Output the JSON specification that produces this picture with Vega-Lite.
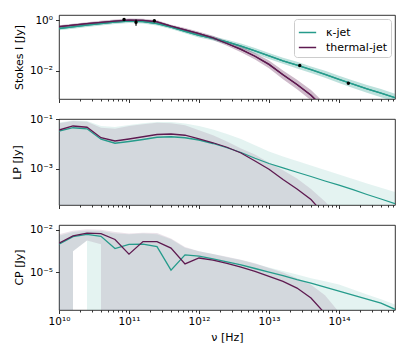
{
"$schema": "https://vega.github.io/schema/vega-lite/v6.json",
"padding": {"left": 10, "top": 14, "right": 13, "bottom": 4},
"background": "white",
"config": {
  "font": "DejaVu Sans",
  "view": {"stroke": "black", "strokeWidth": 0.8},
  "axis": {"domain": false, "grid": false, "labelFont": "DejaVu Sans", "labelFontSize": 10.5, "labelColor": "black", "titleFont": "DejaVu Sans", "titleFontSize": 11, "titleFontWeight": "normal", "titleColor": "black", "tickColor": "black", "tickWidth": 0.8},
  "legend": {"labelFont": "DejaVu Sans", "labelFontSize": 11, "labelColor": "black"},
  "concat": {"spacing": 20}
},
"datasets": {
  "I": [
    {"nu": 1e10, "s": "κ-jet", "v": 0.4677, "lo": 0.3981, "hi": 0.5495},
    {"nu": 1.585e10, "s": "κ-jet", "v": 0.537, "lo": 0.4571, "hi": 0.631},
    {"nu": 2.512e10, "s": "κ-jet", "v": 0.631, "lo": 0.537, "hi": 0.741},
    {"nu": 3.981e10, "s": "κ-jet", "v": 0.7244, "lo": 0.6166, "hi": 0.851},
    {"nu": 6.31e10, "s": "κ-jet", "v": 0.8318, "lo": 0.7079, "hi": 0.977},
    {"nu": 1e11, "s": "κ-jet", "v": 0.912, "lo": 0.7762, "hi": 1.072},
    {"nu": 1.585e11, "s": "κ-jet", "v": 0.871, "lo": 0.741, "hi": 1.023},
    {"nu": 2.512e11, "s": "κ-jet", "v": 0.7244, "lo": 0.6166, "hi": 0.851},
    {"nu": 3.981e11, "s": "κ-jet", "v": 0.5248, "lo": 0.4467, "hi": 0.6166},
    {"nu": 6.31e11, "s": "κ-jet", "v": 0.3631, "lo": 0.3055, "hi": 0.4315},
    {"nu": 1e12, "s": "κ-jet", "v": 0.2512, "lo": 0.2089, "hi": 0.302},
    {"nu": 1.585e12, "s": "κ-jet", "v": 0.1905, "lo": 0.1567, "hi": 0.2317},
    {"nu": 2.512e12, "s": "κ-jet", "v": 0.138, "lo": 0.1122, "hi": 0.1698},
    {"nu": 3.981e12, "s": "κ-jet", "v": 0.0955, "lo": 0.0759, "hi": 0.1202},
    {"nu": 6.31e12, "s": "κ-jet", "v": 0.0617, "lo": 0.0479, "hi": 0.0794},
    {"nu": 1e13, "s": "κ-jet", "v": 0.0389, "lo": 0.0295, "hi": 0.0513},
    {"nu": 1.585e13, "s": "κ-jet", "v": 0.0251, "lo": 0.01905, "hi": 0.0331},
    {"nu": 2.512e13, "s": "κ-jet", "v": 0.01698, "lo": 0.01259, "hi": 0.02291},
    {"nu": 3.981e13, "s": "κ-jet", "v": 0.01122, "lo": 0.00832, "hi": 0.01514},
    {"nu": 6.31e13, "s": "κ-jet", "v": 0.00741, "lo": 0.00537, "hi": 0.01023},
    {"nu": 1e14, "s": "κ-jet", "v": 0.004677, "lo": 0.00339, "hi": 0.00646},
    {"nu": 1.585e14, "s": "κ-jet", "v": 0.00302, "lo": 0.002138, "hi": 0.004266},
    {"nu": 2.512e14, "s": "κ-jet", "v": 0.001995, "lo": 0.001413, "hi": 0.002818},
    {"nu": 3.981e14, "s": "κ-jet", "v": 0.001349, "lo": 0.000933, "hi": 0.00195},
    {"nu": 6.31e14, "s": "κ-jet", "v": 0.000891, "lo": 0.000617, "hi": 0.001288},
    {"nu": 1e10, "s": "thermal-jet", "v": 0.5495, "lo": 0.4786, "hi": 0.631},
    {"nu": 1.585e10, "s": "thermal-jet", "v": 0.631, "lo": 0.5495, "hi": 0.7244},
    {"nu": 2.512e10, "s": "thermal-jet", "v": 0.7244, "lo": 0.631, "hi": 0.8318},
    {"nu": 3.981e10, "s": "thermal-jet", "v": 0.813, "lo": 0.7079, "hi": 0.9333},
    {"nu": 6.31e10, "s": "thermal-jet", "v": 0.912, "lo": 0.7943, "hi": 1.047},
    {"nu": 1e11, "s": "thermal-jet", "v": 1.0, "lo": 0.871, "hi": 1.148},
    {"nu": 1.585e11, "s": "thermal-jet", "v": 0.977, "lo": 0.851, "hi": 1.122},
    {"nu": 2.512e11, "s": "thermal-jet", "v": 0.851, "lo": 0.741, "hi": 0.977},
    {"nu": 3.981e11, "s": "thermal-jet", "v": 0.575, "lo": 0.501, "hi": 0.661},
    {"nu": 6.31e11, "s": "thermal-jet", "v": 0.417, "lo": 0.3548, "hi": 0.4898},
    {"nu": 1e12, "s": "thermal-jet", "v": 0.295, "lo": 0.2512, "hi": 0.3467},
    {"nu": 1.585e12, "s": "thermal-jet", "v": 0.1995, "lo": 0.166, "hi": 0.2399},
    {"nu": 2.512e12, "s": "thermal-jet", "v": 0.1202, "lo": 0.0977, "hi": 0.1479},
    {"nu": 3.981e12, "s": "thermal-jet", "v": 0.0708, "lo": 0.055, "hi": 0.0912},
    {"nu": 6.31e12, "s": "thermal-jet", "v": 0.038, "lo": 0.0282, "hi": 0.0513},
    {"nu": 1e13, "s": "thermal-jet", "v": 0.0182, "lo": 0.0129, "hi": 0.0257},
    {"nu": 1.585e13, "s": "thermal-jet", "v": 0.00708, "lo": 0.00479, "hi": 0.01047},
    {"nu": 2.512e13, "s": "thermal-jet", "v": 0.00295, "lo": 0.001905, "hi": 0.00457},
    {"nu": 3.981e13, "s": "thermal-jet", "v": 0.00112, "lo": 0.000708, "hi": 0.001778},
    {"nu": 6.31e13, "s": "thermal-jet", "v": 0.000316, "lo": 0.0001905, "hi": 0.000525},
    {"nu": 1e14, "s": "thermal-jet", "v": 0.0000794, "lo": 0.0000457, "hi": 0.000138}
  ],
  "obs": [
    {"nu": 8.5e10, "v": 1.06, "lo": 1.0, "hi": 1.12},
    {"nu": 1.26e11, "v": 0.83, "lo": 0.6, "hi": 1.05},
    {"nu": 2.3e11, "v": 0.94, "lo": 0.9, "hi": 0.98},
    {"nu": 2.75e13, "v": 0.0165, "lo": 0.0158, "hi": 0.0172},
    {"nu": 1.36e14, "v": 0.0033, "lo": 0.0031, "hi": 0.0035}
  ],
  "LP": [
    {"nu": 1e10, "s": "κ-jet", "v": 0.0324, "lo": 1e-30, "hi": 0.0724},
    {"nu": 1.585e10, "s": "κ-jet", "v": 0.0447, "lo": 1e-30, "hi": 0.0871},
    {"nu": 2.512e10, "s": "κ-jet", "v": 0.0407, "lo": 1e-30, "hi": 0.0832},
    {"nu": 3.981e10, "s": "κ-jet", "v": 0.0155, "lo": 1e-30, "hi": 0.0525},
    {"nu": 6.31e10, "s": "κ-jet", "v": 0.01072, "lo": 1e-30, "hi": 0.0479},
    {"nu": 1e11, "s": "κ-jet", "v": 0.01259, "lo": 1e-30, "hi": 0.0575},
    {"nu": 1.585e11, "s": "κ-jet", "v": 0.01514, "lo": 1e-30, "hi": 0.0676},
    {"nu": 2.512e11, "s": "κ-jet", "v": 0.01862, "lo": 1e-30, "hi": 0.0759},
    {"nu": 3.981e11, "s": "κ-jet", "v": 0.0195, "lo": 1e-30, "hi": 0.0759},
    {"nu": 6.31e11, "s": "κ-jet", "v": 0.01778, "lo": 1e-30, "hi": 0.0661},
    {"nu": 1e12, "s": "κ-jet", "v": 0.01445, "lo": 1e-30, "hi": 0.0525},
    {"nu": 1.585e12, "s": "κ-jet", "v": 0.01047, "lo": 1e-30, "hi": 0.038},
    {"nu": 2.512e12, "s": "κ-jet", "v": 0.00708, "lo": 1e-30, "hi": 0.0251},
    {"nu": 3.981e12, "s": "κ-jet", "v": 0.00457, "lo": 1e-30, "hi": 0.01585},
    {"nu": 6.31e12, "s": "κ-jet", "v": 0.00269, "lo": 1e-30, "hi": 0.00891},
    {"nu": 1e13, "s": "κ-jet", "v": 0.00166, "lo": 1e-30, "hi": 0.005012},
    {"nu": 1.585e13, "s": "κ-jet", "v": 0.0011, "lo": 1e-30, "hi": 0.00316},
    {"nu": 2.512e13, "s": "κ-jet", "v": 0.000741, "lo": 1e-30, "hi": 0.00209},
    {"nu": 3.981e13, "s": "κ-jet", "v": 0.000501, "lo": 1e-30, "hi": 0.00138},
    {"nu": 6.31e13, "s": "κ-jet", "v": 0.000331, "lo": 1e-30, "hi": 0.000912},
    {"nu": 1e14, "s": "κ-jet", "v": 0.000224, "lo": 1e-30, "hi": 0.000603},
    {"nu": 1.585e14, "s": "κ-jet", "v": 0.000148, "lo": 1e-30, "hi": 0.000398},
    {"nu": 2.512e14, "s": "κ-jet", "v": 0.0000955, "lo": 1e-30, "hi": 0.000263},
    {"nu": 3.981e14, "s": "κ-jet", "v": 0.0000631, "lo": 1e-30, "hi": 0.000178},
    {"nu": 6.31e14, "s": "κ-jet", "v": 0.0000407, "lo": 1e-30, "hi": 0.00012},
    {"nu": 1e10, "s": "thermal-jet", "v": 0.0363, "lo": 1e-30, "hi": 0.0676},
    {"nu": 1.585e10, "s": "thermal-jet", "v": 0.0525, "lo": 1e-30, "hi": 0.0832},
    {"nu": 2.512e10, "s": "thermal-jet", "v": 0.0468, "lo": 1e-30, "hi": 0.0776},
    {"nu": 3.981e10, "s": "thermal-jet", "v": 0.01778, "lo": 1e-30, "hi": 0.0447},
    {"nu": 6.31e10, "s": "thermal-jet", "v": 0.01318, "lo": 1e-30, "hi": 0.0407},
    {"nu": 1e11, "s": "thermal-jet", "v": 0.01585, "lo": 1e-30, "hi": 0.0525},
    {"nu": 1.585e11, "s": "thermal-jet", "v": 0.0195, "lo": 1e-30, "hi": 0.0617},
    {"nu": 2.512e11, "s": "thermal-jet", "v": 0.024, "lo": 1e-30, "hi": 0.0708},
    {"nu": 3.981e11, "s": "thermal-jet", "v": 0.0251, "lo": 1e-30, "hi": 0.0676},
    {"nu": 6.31e11, "s": "thermal-jet", "v": 0.0224, "lo": 1e-30, "hi": 0.0562},
    {"nu": 1e12, "s": "thermal-jet", "v": 0.0162, "lo": 1e-30, "hi": 0.0355},
    {"nu": 1.585e12, "s": "thermal-jet", "v": 0.01122, "lo": 1e-30, "hi": 0.0224},
    {"nu": 2.512e12, "s": "thermal-jet", "v": 0.00741, "lo": 1e-30, "hi": 0.0126},
    {"nu": 3.981e12, "s": "thermal-jet", "v": 0.004365, "lo": 1e-30, "hi": 0.0066},
    {"nu": 6.31e12, "s": "thermal-jet", "v": 0.00209, "lo": 1e-30, "hi": 0.0038},
    {"nu": 1e13, "s": "thermal-jet", "v": 0.000977, "lo": 1e-30, "hi": 0.001778},
    {"nu": 1.585e13, "s": "thermal-jet", "v": 0.00038, "lo": 1e-30, "hi": 0.000891},
    {"nu": 2.512e13, "s": "thermal-jet", "v": 0.000158, "lo": 1e-30, "hi": 0.000417},
    {"nu": 3.981e13, "s": "thermal-jet", "v": 0.0000603, "lo": 1e-30, "hi": 0.000158},
    {"nu": 6.31e13, "s": "thermal-jet", "v": 0.0000141, "lo": 1e-30, "hi": 0.0000501},
    {"nu": 1e14, "s": "thermal-jet", "v": 0.00000316, "lo": 1e-30, "hi": 0.0000126}
  ],
  "CP": [
    {"nu": 1e10, "s": "κ-jet", "v": 0.001},
    {"nu": 1.585e10, "s": "κ-jet", "v": 0.00339},
    {"nu": 2.512e10, "s": "κ-jet", "v": 0.0049},
    {"nu": 3.981e10, "s": "κ-jet", "v": 0.00355},
    {"nu": 6.31e10, "s": "κ-jet", "v": 0.00049},
    {"nu": 1e11, "s": "κ-jet", "v": 0.000955},
    {"nu": 1.585e11, "s": "κ-jet", "v": 0.001},
    {"nu": 2.512e11, "s": "κ-jet", "v": 0.000661},
    {"nu": 3.981e11, "s": "κ-jet", "v": 0.00001445},
    {"nu": 6.31e11, "s": "κ-jet", "v": 0.000174},
    {"nu": 1e12, "s": "κ-jet", "v": 0.000141},
    {"nu": 1.585e12, "s": "κ-jet", "v": 0.0000912},
    {"nu": 2.512e12, "s": "κ-jet", "v": 0.0000562},
    {"nu": 3.981e12, "s": "κ-jet", "v": 0.0000347},
    {"nu": 6.31e12, "s": "κ-jet", "v": 0.00001905},
    {"nu": 1e13, "s": "κ-jet", "v": 0.00001047},
    {"nu": 1.585e13, "s": "κ-jet", "v": 0.00000603},
    {"nu": 2.512e13, "s": "κ-jet", "v": 0.00000316},
    {"nu": 3.981e13, "s": "κ-jet", "v": 0.00000178},
    {"nu": 6.31e13, "s": "κ-jet", "v": 9.12e-7},
    {"nu": 1e14, "s": "κ-jet", "v": 4.79e-7},
    {"nu": 1.585e14, "s": "κ-jet", "v": 2.51e-7},
    {"nu": 2.512e14, "s": "κ-jet", "v": 1.32e-7},
    {"nu": 3.981e14, "s": "κ-jet", "v": 6.92e-8},
    {"nu": 6.31e14, "s": "κ-jet", "v": 2.51e-8},
    {"nu": 1e10, "s": "thermal-jet", "v": 0.001148},
    {"nu": 1.585e10, "s": "thermal-jet", "v": 0.0038},
    {"nu": 2.512e10, "s": "thermal-jet", "v": 0.00589},
    {"nu": 3.981e10, "s": "thermal-jet", "v": 0.0055},
    {"nu": 6.31e10, "s": "thermal-jet", "v": 0.00214},
    {"nu": 1e11, "s": "thermal-jet", "v": 0.000195},
    {"nu": 1.585e11, "s": "thermal-jet", "v": 0.001514},
    {"nu": 2.512e11, "s": "thermal-jet", "v": 0.001479},
    {"nu": 3.981e11, "s": "thermal-jet", "v": 0.000525},
    {"nu": 6.31e11, "s": "thermal-jet", "v": 0.0000398},
    {"nu": 1e12, "s": "thermal-jet", "v": 0.000105},
    {"nu": 1.585e12, "s": "thermal-jet", "v": 0.0000741},
    {"nu": 2.512e12, "s": "thermal-jet", "v": 0.0000437},
    {"nu": 3.981e12, "s": "thermal-jet", "v": 0.000024},
    {"nu": 6.31e12, "s": "thermal-jet", "v": 0.00001175},
    {"nu": 1e13, "s": "thermal-jet", "v": 0.00000525},
    {"nu": 1.585e13, "s": "thermal-jet", "v": 0.00000234},
    {"nu": 2.512e13, "s": "thermal-jet", "v": 7.94e-7},
    {"nu": 3.981e13, "s": "thermal-jet", "v": 1.585e-7},
    {"nu": 6.31e13, "s": "thermal-jet", "v": 1.26e-8},
    {"nu": 1e14, "s": "thermal-jet", "v": 1e-9}
  ],
  "CPb": [
    {"nu": 1e10, "s": "κ-jet", "lo": 1e-30, "hi": 0.00398},
    {"nu": 1.58e10, "s": "κ-jet", "lo": 1e-30, "hi": 0.00708},
    {"nu": 1.585e10, "s": "κ-jet", "lo": 0.000316, "hi": 0.00708},
    {"nu": 2.512e10, "s": "κ-jet", "lo": 0.00178, "hi": 0.00891},
    {"nu": 2.52e10, "s": "κ-jet", "lo": 1e-30, "hi": 0.00891},
    {"nu": 3.981e10, "s": "κ-jet", "lo": 1e-30, "hi": 0.00832},
    {"nu": 6.31e10, "s": "κ-jet", "lo": 1e-30, "hi": 0.00562},
    {"nu": 1e11, "s": "κ-jet", "lo": 1e-30, "hi": 0.00501},
    {"nu": 1.585e11, "s": "κ-jet", "lo": 1e-30, "hi": 0.00562},
    {"nu": 2.512e11, "s": "κ-jet", "lo": 1e-30, "hi": 0.00501},
    {"nu": 3.981e11, "s": "κ-jet", "lo": 1e-30, "hi": 0.00224},
    {"nu": 6.31e11, "s": "κ-jet", "lo": 1e-30, "hi": 0.000562},
    {"nu": 1e12, "s": "κ-jet", "lo": 1e-30, "hi": 0.000316},
    {"nu": 1.585e12, "s": "κ-jet", "lo": 1e-30, "hi": 0.0002},
    {"nu": 2.512e12, "s": "κ-jet", "lo": 1e-30, "hi": 0.00012},
    {"nu": 3.981e12, "s": "κ-jet", "lo": 1e-30, "hi": 0.0000759},
    {"nu": 6.31e12, "s": "κ-jet", "lo": 1e-30, "hi": 0.0000417},
    {"nu": 1e13, "s": "κ-jet", "lo": 1e-30, "hi": 0.0000224},
    {"nu": 1.585e13, "s": "κ-jet", "lo": 1e-30, "hi": 0.0000126},
    {"nu": 2.512e13, "s": "κ-jet", "lo": 1e-30, "hi": 0.00000708},
    {"nu": 3.981e13, "s": "κ-jet", "lo": 1e-30, "hi": 0.00000398},
    {"nu": 6.31e13, "s": "κ-jet", "lo": 1e-30, "hi": 0.0000024},
    {"nu": 1e14, "s": "κ-jet", "lo": 1e-30, "hi": 0.00000141},
    {"nu": 1.585e14, "s": "κ-jet", "lo": 1e-30, "hi": 6.31e-7},
    {"nu": 2.512e14, "s": "κ-jet", "lo": 1e-30, "hi": 2.82e-7},
    {"nu": 3.981e14, "s": "κ-jet", "lo": 1e-30, "hi": 1.26e-7},
    {"nu": 6.31e14, "s": "κ-jet", "lo": 1e-30, "hi": 5.5e-8},
    {"nu": 1e10, "s": "thermal-jet", "lo": 1e-30, "hi": 0.00501},
    {"nu": 1.58e10, "s": "thermal-jet", "lo": 1e-30, "hi": 0.00891},
    {"nu": 1.585e10, "s": "thermal-jet", "lo": 0.000316, "hi": 0.00891},
    {"nu": 2.512e10, "s": "thermal-jet", "lo": 0.00178, "hi": 0.01122},
    {"nu": 3.981e10, "s": "thermal-jet", "lo": 0.001, "hi": 0.01047},
    {"nu": 3.99e10, "s": "thermal-jet", "lo": 1e-30, "hi": 0.01047},
    {"nu": 6.31e10, "s": "thermal-jet", "lo": 1e-30, "hi": 0.00708},
    {"nu": 1e11, "s": "thermal-jet", "lo": 1e-30, "hi": 0.00562},
    {"nu": 1.585e11, "s": "thermal-jet", "lo": 1e-30, "hi": 0.00631},
    {"nu": 2.512e11, "s": "thermal-jet", "lo": 1e-30, "hi": 0.00603},
    {"nu": 3.981e11, "s": "thermal-jet", "lo": 1e-30, "hi": 0.00251},
    {"nu": 6.31e11, "s": "thermal-jet", "lo": 1e-30, "hi": 0.000631},
    {"nu": 1e12, "s": "thermal-jet", "lo": 1e-30, "hi": 0.000316},
    {"nu": 1.585e12, "s": "thermal-jet", "lo": 1e-30, "hi": 0.0002},
    {"nu": 2.512e12, "s": "thermal-jet", "lo": 1e-30, "hi": 0.000126},
    {"nu": 3.981e12, "s": "thermal-jet", "lo": 1e-30, "hi": 0.0000794},
    {"nu": 6.31e12, "s": "thermal-jet", "lo": 1e-30, "hi": 0.0000447},
    {"nu": 1e13, "s": "thermal-jet", "lo": 1e-30, "hi": 0.0000209},
    {"nu": 1.585e13, "s": "thermal-jet", "lo": 1e-30, "hi": 0.00001},
    {"nu": 2.512e13, "s": "thermal-jet", "lo": 1e-30, "hi": 0.00000398},
    {"nu": 3.981e13, "s": "thermal-jet", "lo": 1e-30, "hi": 0.00000138},
    {"nu": 6.31e13, "s": "thermal-jet", "lo": 1e-30, "hi": 2.51e-7},
    {"nu": 1e14, "s": "thermal-jet", "lo": 1e-30, "hi": 1.585e-8}
  ]
},
"bounds": "flush",
"resolve": {"legend": {"color": "independent"}},
"vconcat": [
  {
    "width": 336, "height": 84,
    "layer": [
      {"data": {"name": "I"}, "mark": {"type": "line", "clip": true, "strokeWidth": 1.3},
       "encoding": {
         "x": {"field": "nu", "type": "quantitative", "scale": {"type": "log", "domain": [1e10, 6.31e14], "nice": false}, "axis": {"values": [1e10,2e10,3e10,4e10,5e10,6e10,7e10,8e10,9e10,1e11,2e11,3e11,4e11,5e11,6e11,7e11,8e11,9e11,1e12,2e12,3e12,4e12,5e12,6e12,7e12,8e12,9e12,1e13,2e13,3e13,4e13,5e13,6e13,7e13,8e13,9e13,1e14,2e14,3e14,4e14,5e14,6e14], "labels": false, "title": null, "tickSize": {"condition": {"test": "abs(log(datum.value)/LN10 - round(log(datum.value)/LN10)) < 0.001", "value": 3.5}, "value": 2}}},
         "y": {"field": "v", "type": "quantitative", "scale": {"type": "log", "domain": [0.000794, 1.585], "nice": false}, "axis": {"values": [1, 0.01], "title": "Stokes I [Jy]", "tickSize": 3.5, "labelPadding": 3, "labelExpr": "'10' + (datum.value < 1 ? '⁻' : '') + substring('⁰¹²³⁴⁵⁶⁷⁸⁹', abs(round(log(datum.value)/LN10)), abs(round(log(datum.value)/LN10)) + 1)", "titleX": -40, "titleY": 42, "titleAngle": 270, "titleAlign": "center", "titleBaseline": "middle"}},
         "color": {"field": "s", "type": "nominal", "scale": {"domain": ["κ-jet", "thermal-jet"], "range": ["#259b8b", "#5e1a50"]}, "legend": {"title": null, "orient": "top-right", "offset": 4, "symbolType": "stroke", "symbolSize": 300, "symbolStrokeWidth": 1.5, "symbolOpacity": 1, "padding": 4, "fillColor": "#ffffff", "strokeColor": "#cccccc", "cornerRadius": 3, "rowPadding": 0, "labelOffset": 9}}
       }},
      {"data": {"name": "I"}, "mark": {"type": "area", "clip": true, "fillOpacity": 0.3, "strokeWidth": 0},
       "encoding": {
         "x": {"field": "nu", "type": "quantitative"},
         "y": {"field": "lo", "type": "quantitative"},
         "y2": {"field": "hi"},
         "color": {"field": "s", "type": "nominal"}
       }},
      {"data": {"name": "I"}, "mark": {"type": "line", "clip": true, "strokeWidth": 1.3},
       "encoding": {
         "x": {"field": "nu", "type": "quantitative"},
         "y": {"field": "v", "type": "quantitative"},
         "color": {"field": "s", "type": "nominal"}
       }},
      {"data": {"name": "obs"}, "mark": {"type": "rule", "color": "black", "strokeWidth": 1.2},
       "encoding": {"x": {"field": "nu", "type": "quantitative"}, "y": {"field": "lo", "type": "quantitative"}, "y2": {"field": "hi"}}},
      {"data": {"name": "obs"}, "mark": {"type": "point", "filled": true, "color": "black", "size": 12, "opacity": 1},
       "encoding": {"x": {"field": "nu", "type": "quantitative"}, "y": {"field": "v", "type": "quantitative"}}}
    ]
  },
  {
    "width": 336, "height": 86,
    "layer": [
      {"data": {"name": "LP"}, "mark": {"type": "area", "clip": true, "fillOpacity": 0.12, "strokeWidth": 0},
       "encoding": {
         "x": {"field": "nu", "type": "quantitative", "scale": {"type": "log", "domain": [1e10, 6.31e14], "nice": false}, "axis": {"values": [1e10,2e10,3e10,4e10,5e10,6e10,7e10,8e10,9e10,1e11,2e11,3e11,4e11,5e11,6e11,7e11,8e11,9e11,1e12,2e12,3e12,4e12,5e12,6e12,7e12,8e12,9e12,1e13,2e13,3e13,4e13,5e13,6e13,7e13,8e13,9e13,1e14,2e14,3e14,4e14,5e14,6e14], "labels": false, "title": null, "tickSize": {"condition": {"test": "abs(log(datum.value)/LN10 - round(log(datum.value)/LN10)) < 0.001", "value": 3.5}, "value": 2}}},
         "y": {"field": "lo", "type": "quantitative", "scale": {"type": "log", "domain": [0.0000363, 0.1], "nice": false}, "axis": {"values": [0.1, 0.001], "title": "LP [Jy]", "tickSize": 3.5, "labelPadding": 3, "labelExpr": "'10' + (datum.value < 1 ? '⁻' : '') + substring('⁰¹²³⁴⁵⁶⁷⁸⁹', abs(round(log(datum.value)/LN10)), abs(round(log(datum.value)/LN10)) + 1)", "titleX": -42, "titleY": 43, "titleAngle": 270, "titleAlign": "center", "titleBaseline": "middle"}},
         "y2": {"field": "hi"},
         "color": {"field": "s", "type": "nominal", "legend": null}
       }},
      {"data": {"name": "LP"}, "mark": {"type": "line", "clip": true, "strokeWidth": 1.3},
       "encoding": {
         "x": {"field": "nu", "type": "quantitative"},
         "y": {"field": "v", "type": "quantitative"},
         "color": {"field": "s", "type": "nominal", "legend": null}
       }}
    ]
  },
  {
    "width": 336, "height": 85,
    "layer": [
      {"data": {"name": "CPb"}, "mark": {"type": "area", "clip": true, "fillOpacity": 0.12, "strokeWidth": 0},
       "encoding": {
         "x": {"field": "nu", "type": "quantitative", "scale": {"type": "log", "domain": [1e10, 6.31e14], "nice": false}, "axis": {"values": [1e10,2e10,3e10,4e10,5e10,6e10,7e10,8e10,9e10,1e11,2e11,3e11,4e11,5e11,6e11,7e11,8e11,9e11,1e12,2e12,3e12,4e12,5e12,6e12,7e12,8e12,9e12,1e13,2e13,3e13,4e13,5e13,6e13,7e13,8e13,9e13,1e14,2e14,3e14,4e14,5e14,6e14], "title": "ν [Hz]", "labelOverlap": false, "labelFlush": false, "labelPadding": 3, "titlePadding": 4, "labelExpr": "abs(log(datum.value)/LN10 - round(log(datum.value)/LN10)) < 0.001 ? '10¹' + substring('⁰¹²³⁴⁵⁶⁷⁸⁹', round(log(datum.value)/LN10) - 10, round(log(datum.value)/LN10) - 9) : ''", "tickSize": {"condition": {"test": "abs(log(datum.value)/LN10 - round(log(datum.value)/LN10)) < 0.001", "value": 3.5}, "value": 2}}},
         "y": {"field": "lo", "type": "quantitative", "scale": {"type": "log", "domain": [2.24e-8, 0.0224], "nice": false}, "axis": {"values": [0.01, 0.00001], "title": "CP [Jy]", "tickSize": 3.5, "labelPadding": 3, "labelExpr": "'10' + (datum.value < 1 ? '⁻' : '') + substring('⁰¹²³⁴⁵⁶⁷⁸⁹', abs(round(log(datum.value)/LN10)), abs(round(log(datum.value)/LN10)) + 1)", "titleX": -40, "titleY": 42, "titleAngle": 270, "titleAlign": "center", "titleBaseline": "middle"}},
         "y2": {"field": "hi"},
         "color": {"field": "s", "type": "nominal", "legend": null}
       }},
      {"data": {"name": "CP"}, "mark": {"type": "line", "clip": true, "strokeWidth": 1.3},
       "encoding": {
         "x": {"field": "nu", "type": "quantitative"},
         "y": {"field": "v", "type": "quantitative"},
         "color": {"field": "s", "type": "nominal", "legend": null}
       }}
    ]
  }
]
}
